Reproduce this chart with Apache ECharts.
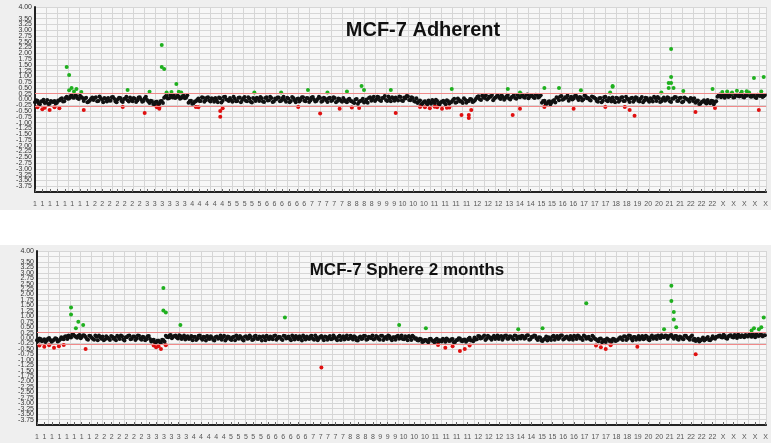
<!DOCTYPE html>
<html>
<head>
<meta charset="utf-8">
<script src="https://cdn.jsdelivr.net/npm/echarts@6/dist/echarts.min.js"></script>
<style>
html,body{margin:0;padding:0;background:#fff;}
#chart{width:771px;height:443px;}
</style>
</head>
<body>
<div id="chart"></div>
<script>
// ---- Data ----
const titles = ["MCF-7 Adherent", "MCF-7 Sphere 2 months"];

// x tick positions (probe index) and their chromosome labels
const xTickPos = [0, 3.1, 6.1, 9.2, 12.3, 15.3, 18.4, 21.5, 24.6, 27.6, 30.7, 33.8, 36.8, 39.9, 43.0, 46.0, 49.1, 52.2, 55.3, 58.3, 61.4, 64.5, 67.5, 70.6, 73.7, 76.8, 79.8, 82.9, 86.0, 89.0, 92.1, 95.2, 98.2, 101.3, 104.4, 107.5, 110.5, 113.6, 116.7, 119.7, 122.8, 125.9, 128.9, 132.0, 135.1, 138.2, 141.2, 144.3, 147.4,
  150.8, 155.2, 159.6, 163.9, 168.3, 172.7, 177.1, 181.5, 185.9, 190.2, 194.6, 199.0, 203.4, 207.8, 212.1, 216.5, 220.9, 225.3, 229.7, 234.1, 238.4, 242.8, 247.2, 251.6, 256.0, 260.3, 264.7, 269.1, 273.5, 277.9, 282.3, 286.6, 291.0, 295.4, 299.8];
const xTickText = ["1","1","1","1","1","1","1","1","2","2","2","2","2","2","2","3","3","3","3","3","3","4","4","4","4","4","5","5","5","5","5","6","6","6","6","6","6","7","7","7","7","7","8","8","8","8","9","9","9",
  "10","10","10","11","11","11","11","12","12","12","13","14","14","15","15","16","16","17","17","17","18","18","19","20","20","21","21","22","22","22","X","X","X","X","X"];

// log2 ratio thresholds (red guide lines)
const upperThreshold = 0.25;
const lowerThreshold = -0.3;

// Panel 1: MCF-7 Adherent, probes at index i
const adherentValues = [
 -0.12,-0.05,-0.2,-0.08,-0.15,-0.02,-0.18,-0.1,-0.06,-0.14,
 -0.04,0.05,-0.08,0.12,0.04,0.18,0.08,0.15,0.02,0.11,
 -0.06,0.08,-0.1,0.03,-0.02,0.1,-0.07,0.05,-0.12,0.02,
 0.07,-0.05,0.11,-0.09,0.01,0.06,-0.11,0.04,-0.03,0.09,
 -0.08,0.03,-0.04,0.1,-0.1,0.05,-0.02,-0.15,-0.08,-0.2,
 -0.1,-0.18,-0.06,0.08,0.17,0.05,0.14,0.2,0.1,0.13,
 0.06,0.16,0.09,-0.14,-0.05,-0.16,-0.08,0.04,-0.07,0.08,
 -0.03,0.1,-0.09,0.02,0.07,-0.12,0.05,-0.05,0.12,-0.01,
 0.06,-0.1,0.03,-0.06,0.09,-0.02,0.11,-0.08,0.04,-0.13,
 0.02,0.08,-0.07,0.05,-0.11,0.1,-0.03,0.06,-0.09,0.01,
 0.09,-0.05,0.12,-0.1,0.03,-0.07,0.07,-0.12,0.04,-0.02,
 0.1,-0.08,0.05,-0.04,0.11,-0.09,0.02,0.07,-0.06,0.04,
 -0.11,0.08,-0.03,0.06,-0.08,0.02,-0.1,-0.02,-0.12,0.03,
 -0.08,-0.15,0.02,-0.1,-0.04,-0.13,0.0,0.06,-0.05,0.12,
 0.0,0.1,-0.06,0.08,-0.02,0.13,-0.08,0.05,0.09,-0.04,
 0.11,-0.07,0.04,0.14,-0.03,0.07,-0.1,-0.15,-0.04,-0.18,
 -0.08,-0.2,-0.12,-0.02,-0.16,-0.06,-0.22,-0.1,-0.14,-0.03,
 -0.17,-0.1,0.03,-0.12,-0.02,-0.08,0.05,-0.14,-0.06,0.01,
 -0.09,0.04,0.14,-0.02,0.1,0.18,0.05,0.12,-0.03,0.09,
 0.16,0.02,0.11,0.07,0.19,0.0,0.13,0.06,0.2,0.1,
 0.18,0.08,0.22,0.13,0.16,0.06,0.2,0.12,-0.14,-0.05,
 -0.18,-0.08,-0.12,-0.02,0.1,-0.03,0.15,0.02,0.08,-0.05,
 0.12,0.04,0.16,-0.02,0.09,0.01,0.14,0.06,-0.04,0.11,
 0.03,-0.1,0.07,-0.05,0.12,-0.08,0.02,0.09,-0.12,0.05,
 -0.03,0.1,-0.07,0.04,-0.11,0.08,-0.02,0.06,-0.09,0.11,
 -0.04,0.07,-0.1,0.02,0.12,-0.06,0.05,-0.08,0.09,-0.01,
 0.06,-0.11,0.03,0.1,-0.05,0.08,-0.09,0.04,-0.02,0.07,
 -0.06,-0.14,-0.04,-0.18,-0.09,-0.13,-0.02,-0.16,-0.07,-0.11,
 0.12,0.22,0.15,0.08,0.2,0.14,0.24,0.1,0.18,0.13,
 0.21,0.09,0.16,0.23,0.12,0.19,0.07,0.17,0.22,0.14
];
// Panel 1: interleaved probes at index i + 0.5
const adherentValuesB = [
 -0.03,-0.16,-0.09,-0.01,-0.13,-0.19,-0.07,-0.11,-0.17,-0.04,
 0.02,-0.09,0.06,0.03,0.14,0.09,0.2,0.05,0.16,0.07,
 0.04,-0.12,-0.04,0.09,0.06,-0.08,0.13,-0.01,0.07,-0.09,
 -0.04,0.1,0.03,-0.12,0.08,-0.06,0.02,0.12,-0.09,-0.02,
 0.06,-0.11,0.09,0.0,-0.06,0.12,-0.09,-0.05,-0.19,-0.11,
 -0.22,-0.08,-0.15,0.13,0.04,0.19,0.09,0.07,0.16,0.03,
 0.14,0.05,0.18,-0.07,-0.18,-0.1,-0.02,-0.06,0.1,-0.1,
 0.08,-0.04,0.05,-0.1,-0.02,0.09,-0.13,0.11,0.0,-0.07,
 -0.02,0.12,-0.08,0.08,-0.12,0.05,-0.05,0.1,-0.1,0.07,
 -0.06,0.03,0.11,-0.09,0.07,-0.04,0.12,-0.11,0.04,0.09,
 -0.08,0.05,-0.02,0.08,-0.12,0.11,-0.03,0.02,-0.09,0.1,
 -0.05,0.07,-0.11,0.09,0.0,-0.06,0.12,-0.1,0.08,-0.03,
 0.05,-0.07,0.1,-0.12,0.04,-0.05,0.07,-0.09,0.0,-0.07,
 -0.12,0.0,-0.18,-0.06,0.03,-0.09,-0.14,0.1,0.02,-0.06,
 0.12,-0.03,0.07,0.15,-0.07,0.04,0.1,-0.05,0.01,0.13,
 -0.04,0.09,0.15,-0.02,0.1,-0.06,0.05,-0.08,-0.2,-0.11,
 -0.15,-0.04,-0.18,-0.09,-0.01,-0.19,-0.12,-0.05,-0.21,-0.08,
 -0.13,-0.02,-0.14,0.04,-0.09,-0.15,-0.01,-0.07,0.02,-0.11,
 -0.03,0.12,0.01,0.17,0.07,0.0,0.13,0.2,0.05,0.15,
 0.08,0.18,-0.01,0.14,0.04,0.1,0.19,0.03,0.12,0.23,
 0.11,0.19,0.05,0.17,0.1,0.21,0.09,0.18,-0.07,-0.17,
 -0.11,-0.2,-0.06,-0.13,0.06,0.13,-0.01,0.1,0.17,0.04,
 0.0,0.15,0.07,0.11,-0.04,0.18,0.05,-0.01,0.13,0.08,
 -0.07,0.05,-0.12,0.1,-0.03,0.06,-0.09,-0.04,0.08,-0.1,
 0.09,-0.06,0.12,-0.01,0.05,-0.1,0.1,-0.05,0.03,-0.12,
 0.08,-0.03,0.05,-0.09,0.06,0.11,-0.11,0.02,-0.05,0.1,
 -0.08,0.04,0.11,-0.06,0.06,-0.12,0.09,0.01,-0.1,0.03,
 0.05,-0.08,-0.19,-0.11,-0.03,-0.17,-0.12,-0.05,-0.2,-0.08,
 0.19,0.1,0.2,0.16,0.11,0.23,0.09,0.2,0.15,0.24,
 0.11,0.18,0.24,0.13,0.2,0.1,0.21,0.15,0.11,0.19
];
// Panel 1 extra probes [index, value]
const adherentExtra = [
 [1,-0.33],[3,-0.42],[4,-0.36],[6,-0.45],[8,-0.34],[10,-0.38],[20,-0.45],
 [13,1.41],[14,1.06],[14,0.4],[15,0.5],[16,0.35],[17,0.45],[19,0.32],
 [36,-0.32],[38,0.41],[45,-0.58],[47,0.33],[50,-0.34],[51,-0.35],[51,-0.4],
 [52,2.36],[52,1.41],[53,1.32],[54,0.3],[56,0.32],[58,0.67],[59,0.33],[60,0.3],
 [66,-0.32],[67,-0.34],[76,-0.5],[76,-0.75],[77,-0.38],[90,0.3],[101,0.3],[108,-0.32],
 [112,0.41],[117,-0.6],[120,0.3],[125,-0.4],[128,0.35],[130,-0.35],[133,-0.37],[134,0.58],[135,0.41],
 [146,0.41],[148,-0.58],[158,-0.32],[160,-0.33],[162,-0.38],[164,-0.31],[165,-0.34],[167,-0.4],[169,-0.36],[170,-0.35],
 [171,0.45],[175,-0.67],[178,-0.8],[178,-0.67],[179,-0.45],[194,0.45],[196,-0.67],[199,0.3],[199,-0.4],
 [209,0.5],[209,-0.32],[215,0.5],[221,-0.4],[224,0.4],[234,-0.32],[236,0.3],[237,0.58],[237,0.55],
 [242,-0.32],[244,-0.45],[246,-0.7],[257,0.3],[260,0.71],[260,0.5],[261,2.18],[261,0.97],[261,0.71],[262,0.5],
 [266,0.37],[271,-0.54],[278,0.45],[279,-0.37],[282,0.32],[284,0.35],[286,0.3],[288,0.38],[290,0.33],[292,0.36],[293,0.3],
 [295,0.93],[297,-0.45],[298,0.35],[299,0.97]
];

// Panel 2: MCF-7 Sphere 2 months
const sphereValues = [
 -0.1,-0.02,-0.15,-0.06,-0.12,0.0,-0.17,-0.08,-0.04,-0.13,
 0.03,-0.06,0.08,0.12,0.02,0.15,0.06,0.1,-0.01,0.13,
 0.05,-0.08,0.09,-0.03,0.11,-0.1,0.04,0.07,-0.06,0.02,
 -0.09,0.06,0.01,0.1,-0.05,0.08,-0.11,0.03,0.12,-0.04,
 0.07,-0.02,0.1,-0.08,0.04,-0.06,0.09,-0.16,-0.08,-0.2,
 -0.13,-0.22,-0.1,0.1,0.03,0.14,0.06,0.11,-0.02,0.09,
 0.04,-0.07,0.08,0.0,-0.1,0.06,-0.04,0.11,-0.08,0.03,
 0.09,-0.05,0.02,-0.12,0.07,0.0,-0.08,0.1,-0.03,0.05,
 -0.09,0.06,0.12,-0.04,0.03,-0.11,0.08,-0.02,0.05,-0.07,
 0.1,-0.05,0.04,0.08,-0.1,0.02,0.07,-0.06,0.11,-0.01,
 0.05,-0.09,0.09,0.0,-0.04,0.12,-0.07,0.03,0.08,-0.11,
 0.02,0.07,-0.05,0.1,-0.08,0.04,-0.02,0.09,-0.1,0.05,
 0.01,-0.06,0.11,-0.03,0.06,-0.09,0.08,0.0,-0.05,0.1,
 -0.07,0.04,-0.11,0.07,-0.02,0.09,-0.06,0.03,0.12,-0.04,
 0.06,-0.08,0.1,0.01,-0.05,0.08,-0.1,0.04,0.07,-0.03,
 0.11,-0.06,0.03,0.09,-0.09,0.05,-0.01,-0.12,-0.06,-0.16,
 -0.09,-0.19,-0.04,-0.14,-0.08,-0.2,-0.11,-0.03,-0.17,-0.07,
 -0.13,-0.05,-0.18,-0.09,-0.02,-0.15,-0.07,-0.12,0.01,-0.1,
 0.02,-0.06,0.08,0.0,0.11,-0.04,0.06,-0.08,0.1,0.03,
 -0.05,0.09,0.01,0.12,-0.03,0.07,-0.07,0.1,0.04,-0.02,
 0.08,0.0,0.13,-0.06,0.05,0.1,-0.09,0.02,-0.14,-0.05,
 -0.11,-0.02,0.06,-0.08,0.09,0.01,0.12,-0.04,0.07,-0.07,
 0.04,0.1,-0.05,0.08,0.0,0.11,-0.03,0.06,-0.09,0.05,
 -0.06,-0.15,-0.02,-0.12,-0.18,-0.07,-0.1,-0.03,-0.14,-0.08,
 0.03,-0.09,0.07,-0.04,0.1,-0.11,0.05,0.0,-0.07,0.09,
 -0.02,0.06,-0.1,0.11,0.02,-0.05,0.08,0.13,0.04,0.1,
 0.07,0.14,-0.03,0.09,-0.08,0.04,-0.06,0.1,-0.01,0.06,
 -0.09,-0.14,-0.04,-0.11,0.02,-0.07,0.05,-0.1,0.08,-0.03,
 0.06,0.12,0.02,0.09,-0.04,0.11,0.05,0.14,0.0,0.08,
 0.13,0.03,0.1,0.16,0.06,0.12,0.18,0.09,0.15,0.11
];
const sphereValuesB = [
 -0.14,-0.05,-0.11,-0.18,-0.03,-0.09,-0.13,-0.01,-0.16,-0.07,
 -0.03,0.07,-0.05,0.05,0.16,0.09,0.01,0.14,0.07,0.11,
 -0.05,0.1,0.01,-0.08,0.06,0.12,-0.03,-0.1,0.08,-0.04,
 0.09,-0.03,-0.1,0.05,0.11,-0.07,0.04,0.1,-0.06,0.07,
 -0.09,0.11,-0.04,0.06,-0.1,0.08,-0.05,-0.1,-0.2,-0.13,
 -0.18,-0.08,-0.17,0.05,0.12,-0.01,0.09,0.02,0.13,-0.05,
 0.11,0.02,-0.05,0.09,0.05,-0.09,0.1,-0.01,0.06,-0.11,
 -0.02,0.08,-0.08,0.05,-0.04,0.11,0.03,-0.11,0.07,-0.06,
 0.04,-0.1,0.0,0.09,-0.07,0.06,-0.04,0.11,-0.09,0.08,
 -0.03,0.07,-0.11,0.02,0.1,-0.06,-0.01,0.09,-0.08,0.06,
 -0.05,0.1,-0.02,0.07,-0.1,0.04,0.09,-0.06,0.01,0.11,
 -0.07,-0.01,0.08,-0.04,0.11,-0.1,0.06,0.0,0.07,-0.08,
 0.09,-0.03,0.04,-0.1,0.1,0.02,-0.07,0.11,-0.02,0.05,
 0.08,-0.1,0.02,-0.05,0.1,-0.08,0.06,-0.01,-0.07,0.09,
 -0.04,0.1,-0.09,0.05,0.12,-0.02,0.03,-0.08,0.1,0.01,
 -0.05,0.08,-0.1,0.04,0.1,-0.03,-0.1,-0.04,-0.18,-0.09,
 -0.15,-0.05,-0.12,-0.2,-0.03,-0.1,-0.16,-0.08,-0.02,-0.14,
 -0.06,-0.19,-0.1,-0.01,-0.13,-0.08,-0.17,-0.04,-0.11,-0.15,
 -0.07,0.09,-0.02,0.06,-0.09,0.1,-0.01,0.04,-0.05,0.12,
 0.06,-0.08,0.1,-0.04,0.08,0.0,0.11,-0.05,0.07,0.1,
 -0.04,0.11,-0.08,0.06,0.12,-0.02,0.04,-0.11,-0.06,0.07,
 0.03,-0.09,0.1,0.02,-0.05,0.11,-0.07,0.05,-0.02,0.09,
 -0.08,0.06,0.12,-0.02,-0.09,0.07,0.02,-0.06,0.1,-0.03,
 -0.12,-0.04,-0.19,-0.09,-0.02,-0.14,-0.16,-0.06,-0.11,-0.01,
 -0.05,0.08,-0.09,0.11,-0.02,0.05,-0.08,0.09,0.02,-0.06,
 0.1,-0.07,0.04,-0.03,0.08,0.12,-0.01,0.06,0.11,-0.04,
 0.12,0.03,0.09,-0.05,0.07,-0.03,0.1,0.02,-0.08,0.11,
 -0.03,-0.1,-0.16,-0.06,-0.12,-0.01,-0.09,-0.04,0.0,0.06,
 0.1,0.03,0.15,-0.01,0.08,0.13,0.02,0.1,0.16,0.05,
 0.09,0.14,0.07,0.12,0.19,0.04,0.11,0.15,0.08,0.13
];
const sphereExtra = [
 [1,-0.35],[3,-0.4],[5,-0.33],[7,-0.45],[9,-0.38],[11,-0.32],
 [14,1.4],[14,1.08],[16,0.45],[17,0.75],[19,0.6],[20,-0.5],
 [48,-0.35],[49,-0.42],[50,-0.38],[51,-0.5],[52,2.3],[52,1.26],[53,1.17],[53,-0.33],[59,0.6],
 [102,0.94],[117,-1.36],[149,0.6],[160,0.45],
 [165,-0.32],[168,-0.45],[171,-0.38],[174,-0.6],[176,-0.5],[178,-0.35],
 [198,0.4],[208,0.45],[226,1.6],[230,-0.35],[232,-0.42],[234,-0.5],[236,-0.33],[247,-0.4],
 [258,0.4],[261,2.4],[261,1.7],[262,1.2],[262,0.85],[263,0.5],[271,-0.75],
 [294,0.35],[295,0.45],[297,0.4],[298,0.5],[299,0.94]
];

// ---- Chart ----
const chart = echarts.init(document.getElementById('chart'), null, {renderer: 'canvas'});

function toPoints(vals, valsB, extra) {
  return vals.map((v, i) => [i, v])
    .concat(valsB.map((v, i) => [i + 0.5, v]))
    .concat(extra);
}
function tickLabel(v) {
  const k = xTickPos.findIndex(p => Math.abs(p - v) < 1e-6);
  return k >= 0 ? xTickText[k] : '';
}

const panels = [
  {top: 7, height: 185, left: 35},
  {top: 251, height: 174, left: 37}
];

const grids = [], xAxes = [], yAxes = [], series = [];
panels.forEach((p, gi) => {
  grids.push({left: p.left, right: 0, top: p.top, height: p.height, show: true, backgroundColor: '#f7f7f7', borderWidth: 0});
  xAxes.push({
    type: 'value', gridIndex: gi, min: 0, max: 300,
    axisLine: {show: true, onZero: false, lineStyle: {color: '#222', width: 2}},
    axisTick: {show: true, inside: true, length: 3, customValues: xTickPos, lineStyle: {color: '#666'}},
    axisLabel: {show: true, customValues: xTickPos, formatter: tickLabel, fontSize: 7, color: '#555', margin: 9, fontFamily: 'Liberation Sans, Arial, sans-serif'},
    splitLine: {show: false}
  });
  xAxes.push({
    type: 'value', gridIndex: gi, min: 0, max: 300, interval: 4.5, position: 'top',
    axisLine: {show: false}, axisTick: {show: false}, axisLabel: {show: false},
    splitLine: {show: true, lineStyle: {color: '#d6d6d6', width: 1}}
  });
  yAxes.push({
    type: 'value', gridIndex: gi, min: -4, max: 4, interval: 0.25,
    axisLine: {show: true, onZero: false, lineStyle: {color: '#222', width: 2}},
    axisTick: {show: false},
    axisLabel: {fontSize: 7, color: '#333', margin: 3, showMaxLabel: true, hideOverlap: false, fontFamily: 'Liberation Sans, Arial, sans-serif',
      formatter: v => (v <= -4 ? '' : v.toFixed(2))},
    splitLine: {show: true, lineStyle: {color: '#d6d6d6', width: 1}}
  });
});

[[adherentValues, adherentValuesB, adherentExtra], [sphereValues, sphereValuesB, sphereExtra]].forEach((d, gi) => {
  series.push({
    type: 'scatter', xAxisIndex: gi * 2, yAxisIndex: gi,
    data: toPoints(d[0], d[1], d[2]),
    symbolSize: 4,
    itemStyle: {opacity: 1},
    markLine: {
      silent: true, symbol: 'none', label: {show: false},
      lineStyle: {color: '#f08a8a', width: 1, type: 'solid'},
      data: [{yAxis: upperThreshold}, {yAxis: lowerThreshold}]
    },
    z: 3
  });
});

chart.setOption({
  animation: false,
  backgroundColor: '#ffffff',
  graphic: [
    {type: 'rect', left: 0, top: 0, z: -10, shape: {width: 771, height: 210}, style: {fill: '#efefef'}},
    {type: 'rect', left: 0, top: 245, z: -10, shape: {width: 771, height: 198}, style: {fill: '#efefef'}},
    {type: 'text', x: 423, y: 30, z: 10, style: {text: titles[0], textAlign: 'center', textVerticalAlign: 'middle', font: 'bold 20px "Liberation Sans", Arial, sans-serif', fill: '#111'}},
    {type: 'text', x: 407, y: 270, z: 10, style: {text: titles[1], textAlign: 'center', textVerticalAlign: 'middle', font: 'bold 17px "Liberation Sans", Arial, sans-serif', fill: '#111'}}
  ],
  grid: grids,
  xAxis: xAxes,
  yAxis: yAxes,
  visualMap: {
    show: false, type: 'piecewise', seriesIndex: [0, 1], dimension: 1,
    pieces: [
      {lt: lowerThreshold, color: '#e01010'},
      {gte: lowerThreshold, lte: upperThreshold, color: '#111111'},
      {gt: upperThreshold, color: '#1fb01f'}
    ]
  },
  series: series
});
</script>
</body>
</html>
